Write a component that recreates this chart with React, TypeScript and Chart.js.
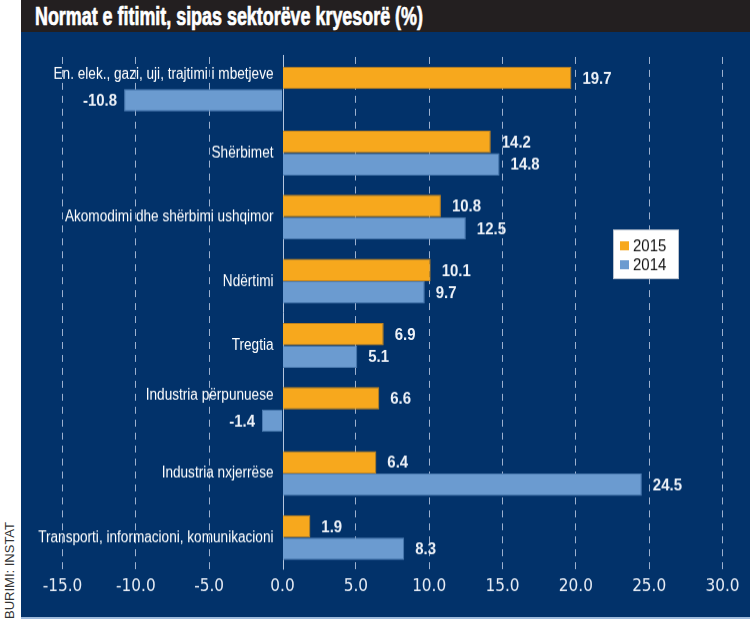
import React, { useEffect, useLayoutEffect, useRef } from "react";
import { Chart, registerables } from "chart.js";

Chart.register(...registerables);

const categories = [
  "En. elek., gazi, uji, trajtimi i mbetjeve",
  "Shërbimet",
  "Akomodimi dhe shërbimi ushqimor",
  "Ndërtimi",
  "Tregtia",
  "Industria përpunuese",
  "Industria nxjerrëse",
  "Transporti, informacioni, komunikacioni",
];
const values2015 = [19.7, 14.2, 10.8, 10.1, 6.9, 6.6, 6.4, 1.9];
const values2014 = [-10.8, 14.8, 12.5, 9.7, 5.1, -1.4, 24.5, 8.3];
const seriesLabels = ["2015", "2014"];
const xMin = -15;
const xMax = 30;
const xStep = 5;

const TITLE = "Normat e fitimit, sipas sektorëve kryesorë (%)";
const SOURCE = "BURIMI: INSTAT";

const NAVY = "#02326a";
const ORANGE = "#f7a81d";
const ORANGE_BORDER = "#c8861c";
const BLUE = "#6b9bd0";
const BLUE_BORDER = "#4d7db3";
const ARIAL = '"Liberation Sans", Arial, sans-serif';
const CONDENSED = '"DejaVu Sans Condensed", "Liberation Sans", Arial, sans-serif';

function drawText(
  ctx: CanvasRenderingContext2D,
  text: string,
  x: number,
  y: number,
  align: CanvasTextAlign,
  font: string,
  color: string,
  sx = 1
) {
  ctx.save();
  ctx.translate(x, y);
  ctx.scale(sx, 1);
  ctx.font = font;
  ctx.fillStyle = color;
  ctx.textAlign = align;
  ctx.textBaseline = "middle";
  ctx.fillText(text, 0, 0);
  ctx.restore();
}

const decor = {
  id: "decor",
  beforeDatasetsDraw(chart: any) {
    const { ctx, chartArea, scales } = chart;
    const x0 = Math.round(scales.x.getPixelForValue(0)) + 0.5;
    ctx.save();
    ctx.fillStyle = NAVY;
    ctx.fillRect(x0 - 3, chartArea.top - 4, 6, chartArea.bottom - chartArea.top + 4);
    ctx.strokeStyle = "rgba(190,205,228,0.95)";
    ctx.lineWidth = 1;
    ctx.beginPath();
    ctx.moveTo(x0, chartArea.top - 2);
    ctx.lineTo(x0, chartArea.bottom);
    ctx.stroke();
    ctx.restore();
  },
  afterDatasetsDraw(chart: any) {
    const { ctx, scales } = chart;
    const x0 = scales.x.getPixelForValue(0);
    const meta0 = chart.getDatasetMeta(0);
    const meta1 = chart.getDatasetMeta(1);
    const catFont = `16px ${ARIAL}`;
    const valFont = `bold 17px ${ARIAL}`;

    categories.forEach((cat, i) => {
      const anyNeg = values2014[i] < 0 || values2015[i] < 0;
      const y = anyNeg ? meta0.data[i].y - 3 : scales.y.getPixelForValue(i);
      drawText(ctx, cat, x0 - 9, y, "right", catFont, "#ffffff", 0.85);
    });

    [meta0, meta1].forEach((meta, d) => {
      const vals = d === 0 ? values2015 : values2014;
      meta.data.forEach((el: any, i: number) => {
        const v = vals[i];
        const txt = v.toFixed(1);
        if (v >= 0) drawText(ctx, txt, el.x + 11, el.y + 1, "left", valFont, "#eef2f8", 0.88);
        else drawText(ctx, txt, el.x - 7, el.y + 1, "right", valFont, "#eef2f8", 0.88);
      });
    });

    // legend box
    const bx = 592;
    const by = 198;
    ctx.save();
    ctx.fillStyle = "#ffffff";
    ctx.fillRect(bx, by, 66, 50);
    ctx.strokeStyle = "#b8c2cf";
    ctx.lineWidth = 1;
    ctx.strokeRect(bx + 0.5, by + 0.5, 65, 49);
    const colors = [ORANGE, BLUE];
    seriesLabels.forEach((lab, k) => {
      const sy = by + 12 + k * 19;
      ctx.fillStyle = colors[k];
      ctx.fillRect(bx + 7, sy, 9, 9);
      drawText(ctx, lab, bx + 20, sy + 5, "left", `17px ${ARIAL}`, "#111111", 0.88);
    });
    ctx.restore();
  },
};

export default function App() {
  const ref = useRef<HTMLCanvasElement | null>(null);
  const titleRef = useRef<HTMLDivElement | null>(null);

  useLayoutEffect(() => {
    const el = titleRef.current;
    if (!el) return;
    const w = el.scrollWidth;
    if (w > 0) el.style.transform = `scaleX(${388 / w})`;
  }, []);

  useEffect(() => {
    if (!ref.current) return;
    const chart = new Chart(ref.current, {
      type: "bar",
      data: {
        labels: categories,
        datasets: [
          {
            label: seriesLabels[0],
            data: values2015,
            backgroundColor: ORANGE,
            borderColor: ORANGE_BORDER,
            borderWidth: 1,
            categoryPercentage: 0.7,
            barPercentage: 1.0,
          },
          {
            label: seriesLabels[1],
            data: values2014,
            backgroundColor: BLUE,
            borderColor: BLUE_BORDER,
            borderWidth: 1,
            categoryPercentage: 0.7,
            barPercentage: 1.0,
          },
        ],
      },
      options: {
        indexAxis: "y",
        animation: false,
        responsive: false,
        devicePixelRatio: 1,
        layout: { padding: { top: 25, left: 41.5, right: 27.5, bottom: 0 } },
        plugins: {
          legend: { display: false },
          tooltip: { enabled: false },
        },
        scales: {
          x: {
            min: xMin,
            max: xMax,
            afterFit: (scale: any) => {
              scale.height = 47.5;
            },
            ticks: {
              stepSize: xStep,
              color: "#e8edf5",
              font: { family: CONDENSED, size: 17 },
              padding: 7,
              callback: (v: any) => Number(v).toFixed(1),
            },
            grid: {
              color: "rgba(185,200,225,0.85)",
              lineWidth: 1,
              drawTicks: false,
            },
            border: { display: false, dash: [7, 6] },
          },
          y: {
            display: false,
            grid: { display: false },
          },
        },
      },
      plugins: [decor],
    });
    return () => chart.destroy();
  }, []);

  return (
    <div
      style={{
        position: "absolute",
        left: 0,
        top: 0,
        width: 750,
        height: 625,
        background: "#ffffff",
        overflow: "hidden",
      }}
    >
      <div
        style={{
          position: "absolute",
          left: 21,
          top: 0,
          width: 729,
          height: 32,
          background: "#231f20",
          overflow: "hidden",
        }}
      >
        <div
          ref={titleRef}
          style={{
            position: "absolute",
            left: 14,
            top: 1,
            whiteSpace: "nowrap",
            color: "#ffffff",
            fontFamily: ARIAL,
            fontWeight: "bold",
            fontSize: 25,
            lineHeight: "30px",
            transformOrigin: "0 0",
            WebkitTextStroke: "0.7px #ffffff",
          }}
        >
          {TITLE}
        </div>
      </div>
      <canvas
        ref={ref}
        width={729}
        height={587}
        style={{
          position: "absolute",
          left: 21,
          top: 32,
          width: 729,
          height: 587,
          background: NAVY,
          borderBottom: "2px solid #9fbbdc",
        }}
      />
      <div
        style={{
          position: "absolute",
          left: 3,
          top: 619,
          whiteSpace: "nowrap",
          color: "#333333",
          fontFamily: ARIAL,
          fontSize: 13,
          lineHeight: "13px",
          transform: "rotate(-90deg)",
          transformOrigin: "0 0",
        }}
      >
        {SOURCE}
      </div>
    </div>
  );
}
